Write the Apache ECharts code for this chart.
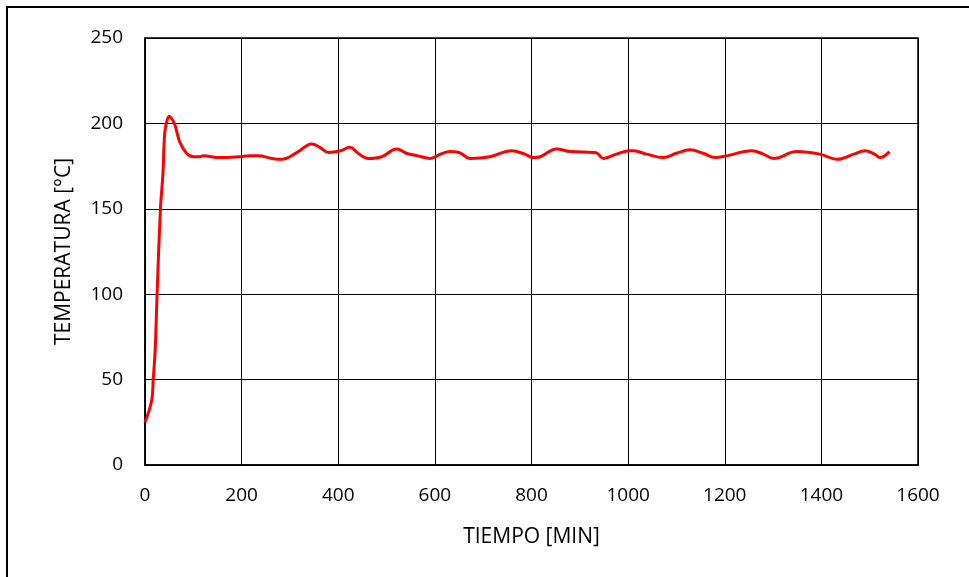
<!DOCTYPE html>
<html>
<head>
<meta charset="utf-8">
<script src="https://cdn.jsdelivr.net/npm/echarts@6/dist/echarts.min.js"></script>
<style>
  html, body { margin: 0; padding: 0; background: #fff; }
  #chart { width: 969px; height: 577px; }
</style>
</head>
<body>
<div id="chart"></div>
<script>
// Time (min) and temperature (°C) samples of the heating run
const tiempo = [0, 14, 17, 21, 25, 32, 37, 41, 46, 50, 55, 62, 72, 86, 100, 114, 120, 155, 197, 217, 235, 262, 283,
  315, 345, 362, 380, 405, 424, 441, 462, 490, 521, 541, 565, 590, 612, 631, 650, 673, 714, 759, 786, 804, 818, 852,
  880, 928, 936, 949, 976, 1004, 1011, 1038, 1073, 1100, 1128, 1155, 1180, 1204, 1256, 1280, 1301, 1349, 1397, 1432,
  1467, 1490, 1510, 1521, 1541];
const temperatura = [25, 38, 50, 67, 100, 150, 170, 195, 202, 204, 203, 199, 189, 182.5, 180.5, 180.5, 181, 180, 180.5, 181, 181, 179.5, 179,
  183, 188, 186, 183, 184, 186, 182.5, 179.5, 180.5, 185, 182.5, 181, 179.5, 182, 183.5, 183, 179.5, 180.5, 184, 182, 180, 180.5, 185,
  183.5, 183, 182.5, 179.5, 182, 184, 184, 182, 180, 182.5, 184.5, 182.5, 180, 181, 184, 182, 179.5, 183.5, 182, 179,
  182, 184, 182, 180, 183.5];
const xTicks = [0, 200, 400, 600, 800, 1000, 1200, 1400, 1600];
const yTicks = [0, 50, 100, 150, 200, 250];

const font = '"Open Sans", Lato, sans-serif';
const chart = echarts.init(document.getElementById('chart'), null, { renderer: 'canvas' });

chart.setOption({
  animation: false,
  backgroundColor: '#ffffff',
  graphic: [{
    type: 'rect',
    shape: { x: 7, y: 7, width: 1100, height: 700 },
    style: { fill: 'none', stroke: '#000', lineWidth: 2 },
    silent: true
  }],
  grid: { left: 145, top: 38, right: 51, bottom: 112, show: true, borderColor: '#000', borderWidth: 1.5 },
  xAxis: {
    type: 'value',
    min: xTicks[0],
    max: xTicks[xTicks.length - 1],
    interval: 200,
    name: 'TIEMPO [MIN]',
    nameLocation: 'middle',
    nameGap: 62,
    nameTextStyle: { fontFamily: font, fontSize: 21, color: '#000' },
    axisLine: { show: true, lineStyle: { color: '#000', width: 1.5 } },
    axisTick: { show: false },
    axisLabel: { margin: 21, fontFamily: font, fontSize: 19, color: '#000', formatter: v => String(v) },
    splitLine: { show: true, lineStyle: { color: '#000', width: 1 } }
  },
  yAxis: {
    type: 'value',
    min: yTicks[0],
    max: yTicks[yTicks.length - 1],
    interval: 50,
    name: 'TEMPERATURA [°C]',
    nameLocation: 'middle',
    nameGap: 70,
    nameTextStyle: { fontFamily: font, fontSize: 21, color: '#000' },
    axisLine: { show: true, lineStyle: { color: '#000', width: 1.5 } },
    axisTick: { show: false },
    axisLabel: { margin: 22, fontFamily: font, fontSize: 19, color: '#000', formatter: v => String(v) },
    splitLine: { show: true, lineStyle: { color: '#000', width: 1 } }
  },
  series: [{
    type: 'line',
    data: tiempo.map((t, i) => [t, temperatura[i]]),
    smooth: 0.4,
    showSymbol: false,
    lineStyle: { color: '#ff0000', width: 3 },
    itemStyle: { color: '#ff0000' }
  }]
});
</script>
</body>
</html>
